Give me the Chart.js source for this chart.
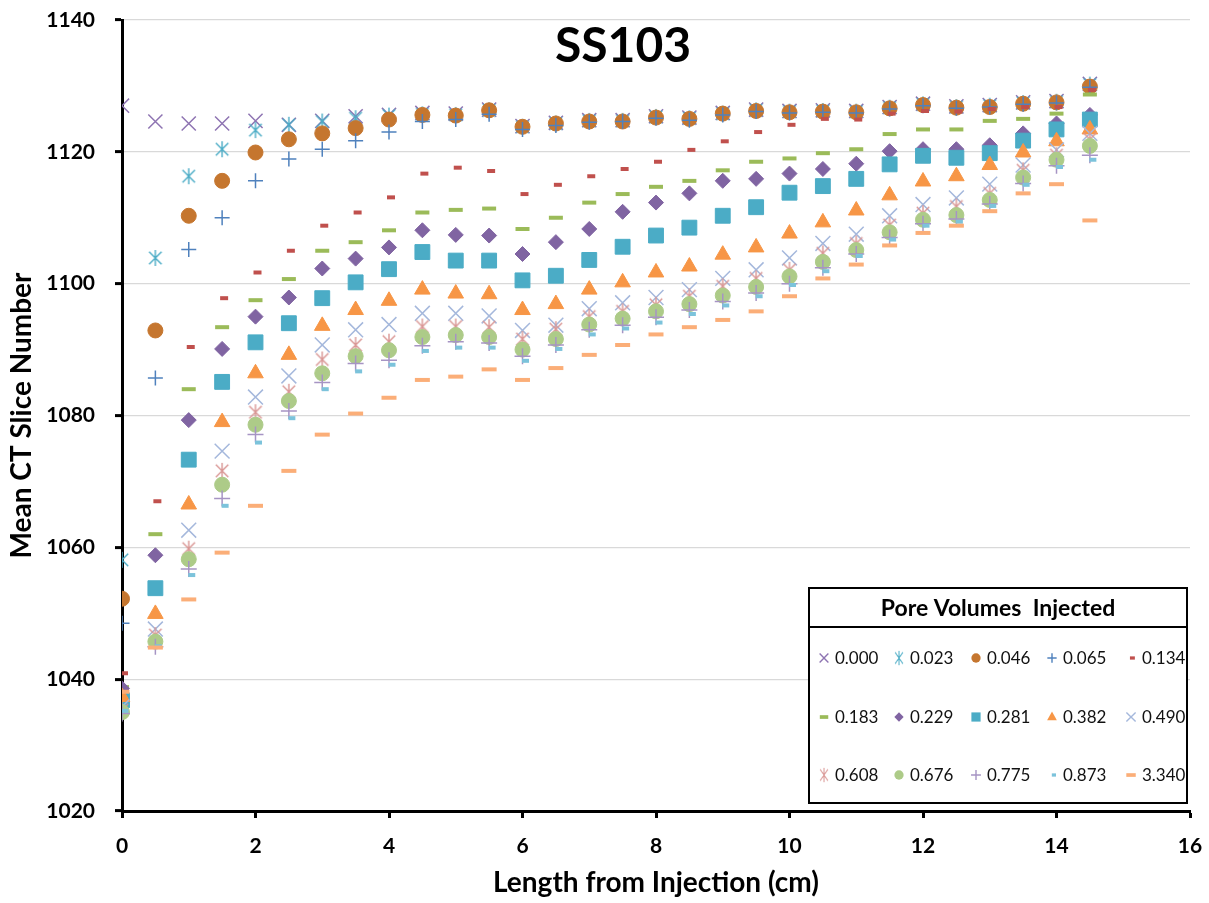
<!DOCTYPE html>
<html>
<head>
<meta charset="utf-8">
<title>SS103</title>
<script src="https://cdn.jsdelivr.net/npm/chart.js"></script>
<style>
  body { margin: 0; background: #fff; }
  #wrap { width: 1209px; height: 903px; }
</style>
</head>
<body>
<div id="wrap"><canvas id="myChart" width="1209" height="903"></canvas></div>
<script>
// distance from injection face (cm)
const lengths = [0, 0.5, 1, 1.5, 2, 2.5, 3, 3.5, 4, 4.5, 5, 5.5, 6, 6.5, 7,
                 7.5, 8, 8.5, 9, 9.5, 10, 10.5, 11, 11.5, 12, 12.5, 13, 13.5, 14, 14.5];

const poreVolumes = ['0.000', '0.023', '0.046', '0.065', '0.134',
                     '0.183', '0.229', '0.281', '0.382', '0.490',
                     '0.608', '0.676', '0.775', '0.873', '3.340'];

// mean CT slice number, one list per injected pore volume
const pv000 = [1127.0, 1124.6, 1124.3, 1124.3, 1124.7, 1124.1, 1124.7, 1125.4, 1125.6, 1125.9, 1125.8, 1126.4, 1123.9, 1124.4, 1124.8,
               1124.8, 1125.4, 1125.2, 1125.9, 1126.4, 1126.2, 1126.3, 1126.2, 1126.8, 1127.3, 1126.9, 1127.1, 1127.5, 1127.7, 1130.3];
const pv023 = [1058.1, 1103.9, 1116.3, 1120.4, 1123.3, 1124.1, 1124.6, 1125.1, 1125.5, 1125.7, 1125.6, 1126.3, 1123.8, 1124.3, 1124.7,
               1124.7, 1125.3, 1125.1, 1125.8, 1126.3, 1126.1, 1126.2, 1126.1, 1126.7, 1127.2, 1126.8, 1127.0, 1127.4, 1127.6, 1130.2];
const pv046 = [1052.2, 1092.9, 1110.3, 1115.6, 1119.9, 1121.9, 1122.8, 1123.6, 1124.9, 1125.6, 1125.5, 1126.3, 1123.8, 1124.3, 1124.6,
               1124.6, 1125.2, 1125.0, 1125.8, 1126.2, 1126.0, 1126.1, 1126.0, 1126.6, 1127.1, 1126.7, 1126.8, 1127.3, 1127.5, 1129.9];
const pv065 = [1048.5, 1085.7, 1105.2, 1110.0, 1115.6, 1118.9, 1120.4, 1121.7, 1123.0, 1124.6, 1124.9, 1125.7, 1123.4, 1124.0, 1124.5,
               1124.6, 1125.1, 1124.8, 1125.6, 1126.1, 1125.9, 1126.0, 1125.9, 1126.5, 1127.0, 1126.6, 1126.8, 1127.2, 1127.4, 1129.8];
const pv134 = [1040.9, 1067.0, 1090.4, 1097.8, 1101.7, 1105.0, 1108.8, 1110.8, 1113.1, 1116.7, 1117.6, 1117.1, 1113.6, 1115.0, 1116.3,
               1117.4, 1118.5, 1120.3, 1121.6, 1123.0, 1124.1, 1125.0, 1124.9, 1125.8, 1126.2, 1126.1, 1126.5, 1126.8, 1126.8, 1129.4];
const pv183 = [1038.8, 1062.0, 1084.0, 1093.4, 1097.5, 1100.7, 1105.0, 1106.3, 1108.1, 1110.8, 1111.2, 1111.4, 1108.3, 1110.0, 1112.3,
               1113.6, 1114.7, 1115.6, 1117.2, 1118.5, 1119.0, 1119.8, 1120.4, 1122.7, 1123.4, 1123.4, 1124.7, 1125.0, 1125.8, 1128.7];
const pv229 = [1038.6, 1058.8, 1079.3, 1090.1, 1095.0, 1097.9, 1102.3, 1103.8, 1105.5, 1108.1, 1107.4, 1107.3, 1104.5, 1106.3, 1108.3,
               1110.9, 1112.3, 1113.7, 1115.6, 1115.9, 1116.7, 1117.4, 1118.2, 1120.1, 1120.4, 1120.4, 1121.0, 1122.8, 1124.3, 1125.6];
const pv281 = [1036.8, 1053.8, 1073.3, 1085.1, 1091.1, 1094.0, 1097.8, 1100.2, 1102.2, 1104.8, 1103.5, 1103.5, 1100.5, 1101.2, 1103.6,
               1105.6, 1107.3, 1108.5, 1110.3, 1111.6, 1113.8, 1114.8, 1115.9, 1118.1, 1119.4, 1119.1, 1119.8, 1121.7, 1123.4, 1124.9];
const pv382 = [1037.3, 1049.9, 1066.5, 1079.0, 1086.4, 1089.2, 1093.6, 1096.0, 1097.4, 1099.1, 1098.5, 1098.4, 1096.0, 1096.9, 1099.1,
               1100.2, 1101.7, 1102.6, 1104.4, 1105.5, 1107.6, 1109.3, 1111.1, 1113.4, 1115.5, 1116.3, 1118.0, 1119.9, 1121.6, 1123.4];
const pv490 = [1035.8, 1047.6, 1062.6, 1074.6, 1082.8, 1086.0, 1090.7, 1093.0, 1093.8, 1095.5, 1095.5, 1095.1, 1092.9, 1093.7, 1096.2,
               1097.1, 1097.9, 1099.1, 1100.8, 1102.1, 1103.9, 1106.1, 1107.5, 1110.3, 1112.0, 1113.0, 1115.1, 1118.0, 1120.3, 1122.8];
const pv608 = [1035.3, 1046.7, 1059.8, 1071.6, 1080.5, 1083.6, 1088.5, 1090.7, 1091.2, 1093.5, 1093.5, 1093.4, 1091.6, 1093.1, 1095.0,
               1095.8, 1096.8, 1098.1, 1099.6, 1100.8, 1102.1, 1104.6, 1106.1, 1108.9, 1110.7, 1111.7, 1113.7, 1117.2, 1119.5, 1121.9];
const pv676 = [1035.0, 1045.7, 1058.2, 1069.5, 1078.6, 1082.2, 1086.4, 1089.0, 1089.9, 1091.9, 1092.2, 1091.9, 1090.0, 1091.6, 1093.8,
               1094.7, 1095.8, 1096.9, 1098.2, 1099.5, 1101.1, 1103.3, 1105.1, 1107.8, 1109.7, 1110.4, 1112.7, 1116.1, 1118.8, 1120.9];
const pv775 = [1034.8, 1044.9, 1056.7, 1067.4, 1077.1, 1080.7, 1085.0, 1087.9, 1088.4, 1090.6, 1091.2, 1091.0, 1089.0, 1090.7, 1093.0,
               1093.7, 1094.9, 1096.0, 1097.3, 1098.6, 1100.0, 1102.4, 1104.5, 1107.0, 1109.1, 1109.8, 1112.1, 1115.2, 1117.9, 1119.5];
const pv873 = [1035.2, 1045.0, 1055.8, 1066.3, 1075.9, 1079.6, 1084.0, 1086.7, 1087.7, 1089.8, 1090.3, 1090.3, 1088.3, 1090.1, 1092.3,
               1093.2, 1094.1, 1095.4, 1096.7, 1098.1, 1099.8, 1101.9, 1104.2, 1106.7, 1108.8, 1109.4, 1111.8, 1115.0, 1117.7, 1118.8];
const pv3340 = [1038.1, 1044.8, 1052.1, 1059.2, 1066.3, 1071.6, 1077.1, 1080.3, 1082.7, 1085.4, 1085.9, 1087.0, 1085.4, 1087.2, 1089.2,
                1090.7, 1092.3, 1093.4, 1094.5, 1095.8, 1098.1, 1100.8, 1102.9, 1105.8, 1107.7, 1108.8, 1111.0, 1113.7, 1115.1, 1109.6];

const allSeries = [pv000, pv023, pv046, pv065, pv134, pv183, pv229, pv281,
                   pv382, pv490, pv608, pv676, pv775, pv873, pv3340];

const yTicks = [1020, 1040, 1060, 1080, 1100, 1120, 1140];
const xTicks = [0, 2, 4, 6, 8, 10, 12, 14, 16];

// excel-like marker images
function asteriskMarker(color, r) {
    const s = Math.ceil(r * 2 + 4);
    const c = document.createElement('canvas');
    c.width = s; c.height = s;
    const g = c.getContext('2d');
    const m = s / 2, d = r * 0.78;
    g.strokeStyle = color;
    g.lineWidth = 1.4;
    g.beginPath();
    g.moveTo(m, m - r); g.lineTo(m, m + r);
    g.moveTo(m - d, m - d); g.lineTo(m + d, m + d);
    g.moveTo(m - d, m + d); g.lineTo(m + d, m - d);
    g.stroke();
    return c;
}

function dashMarker(color, w, h, dx) {
    const c = document.createElement('canvas');
    c.width = Math.ceil(w + Math.abs(dx) * 2 + 2);
    c.height = h + 2;
    const g = c.getContext('2d');
    g.fillStyle = color;
    g.fillRect(c.width / 2 + dx - w / 2, 1, w, h);
    return c;
}

const styles = [
    { color: '#8E74B2', shape: 'crossRot', r: 10 },
    { color: '#4BACC6', shape: asteriskMarker('#4BACC6', 8), r: 8 },
    { color: '#C5762F', shape: 'circle', r: 7.5 },
    { color: '#4F81BD', shape: 'cross', r: 7.5 },
    { color: '#C0504D', shape: dashMarker('#C0504D', 8, 4, 2), r: 4 },
    { color: '#9BBB59', shape: dashMarker('#9BBB59', 14, 4, 0), r: 7 },
    { color: '#8064A2', shape: 'rectRot', r: 7.5 },
    { color: '#4BACC6', shape: 'rect', r: 10.5 },
    { color: '#F79646', shape: 'triangle', r: 9 },
    { color: '#A5B8DC', shape: 'crossRot', r: 10.5 },
    { color: '#D99694', shape: asteriskMarker('#D99694', 8), r: 8 },
    { color: '#ADCB88', shape: 'circle', r: 7.5 },
    { color: '#A694C4', shape: 'cross', r: 8 },
    { color: '#7CC3DB', shape: dashMarker('#7CC3DB', 7, 4, 3), r: 4 },
    { color: '#FBAE78', shape: dashMarker('#FBAE78', 15, 4, 0), r: 7 }
];

const datasets = allSeries.map(function (vals, i) {
    const st = styles[i];
    const line = (st.shape === 'cross' || st.shape === 'crossRot');
    return {
        label: poreVolumes[i],
        data: vals.map(function (v, k) { return { x: lengths[k], y: v }; }),
        pointStyle: st.shape,
        pointRadius: st.r,
        pointHoverRadius: st.r,
        backgroundColor: st.color,
        borderColor: st.color,
        pointBorderWidth: line ? 1.5 : 1,
        showLine: false,
        order: allSeries.length - i
    };
});

// small copy of the marker for the legend box
function legendMarker(g, st, x, y) {
    const f = 0.62;
    g.save();
    g.fillStyle = st.color;
    g.strokeStyle = st.color;
    g.lineWidth = 1.4;
    if (typeof st.shape !== 'string') {
        const w = st.shape.width * f, h = st.shape.height * (st.r < 5 ? 0.8 : 0.9);
        g.drawImage(st.shape, x - w / 2, y - h / 2, w, h);
        g.restore();
        return;
    }
    const r = st.r * f;
    g.beginPath();
    if (st.shape === 'circle') {
        g.arc(x, y, r, 0, Math.PI * 2); g.fill();
    } else if (st.shape === 'rect') {
        const s = r * Math.SQRT1_2;
        g.fillRect(x - s, y - s, s * 2, s * 2);
    } else if (st.shape === 'rectRot') {
        g.moveTo(x - r, y); g.lineTo(x, y - r); g.lineTo(x + r, y); g.lineTo(x, y + r);
        g.closePath(); g.fill();
    } else if (st.shape === 'triangle') {
        g.moveTo(x, y - r); g.lineTo(x + r * 0.87, y + r * 0.6); g.lineTo(x - r * 0.87, y + r * 0.6);
        g.closePath(); g.fill();
    } else if (st.shape === 'cross') {
        g.moveTo(x - r, y); g.lineTo(x + r, y); g.moveTo(x, y - r); g.lineTo(x, y + r); g.stroke();
    } else if (st.shape === 'crossRot') {
        const d = r * Math.SQRT1_2;
        g.moveTo(x - d, y - d); g.lineTo(x + d, y + d); g.moveTo(x - d, y + d); g.lineTo(x + d, y - d); g.stroke();
    }
    g.restore();
}

const overlay = {
    id: 'overlay',
    afterDraw: function (chart) {
        const g = chart.ctx;
        const a = chart.chartArea;
        g.save();
        // chart title
        g.fillStyle = '#000';
        g.font = 'bold 48px Lato';
        g.textAlign = 'center';
        g.textBaseline = 'middle';
        g.fillText('SS103', 623, 47);

        // legend box
        const bx = a.right - 381, by = a.bottom - 223, bw = 378;
        g.lineWidth = 2;
        g.strokeStyle = '#000';
        g.fillStyle = '#fff';
        g.fillRect(bx, by, bw, 215);
        g.strokeRect(bx, by, bw, 39);
        g.strokeRect(bx, by + 39, bw, 176);
        g.fillStyle = '#000';
        g.font = 'bold 23px Lato';
        g.fillText('Pore Volumes  Injected', bx + bw / 2, by + 21);

        const colX = [15, 90, 167, 243, 322];
        const rowY = [70, 129, 187];
        g.font = '17px Lato';
        g.textAlign = 'left';
        for (let i = 0; i < poreVolumes.length; i++) {
            const cx = bx + colX[i % 5], cy = by + rowY[Math.floor(i / 5)];
            legendMarker(g, styles[i], cx, cy);
            g.fillStyle = '#111';
            g.fillText(poreVolumes[i], cx + 11, cy + 1);
        }
        g.restore();
    }
};

const config = {
    type: 'scatter',
    data: { datasets: datasets },
    options: {
        responsive: false,
        animation: false,
        layout: { padding: { top: 20, right: 19, left: 0, bottom: 0 } },
        plugins: { legend: { display: false }, tooltip: { enabled: false } },
        scales: {
            x: {
                type: 'linear',
                min: 0, max: 16,
                afterFit: function (s) { s.height = 92; s.paddingLeft = 0; s.paddingRight = 0; },
                afterBuildTicks: function (s) { s.ticks = xTicks.map(function (v) { return { value: v }; }); },
                border: { color: '#000', width: 3 },
                grid: { drawOnChartArea: false, drawTicks: true, tickLength: 7, tickColor: '#000', tickWidth: 3 },
                ticks: { color: '#000', padding: 16, font: { family: 'Lato', weight: 'bold', size: 21 }, maxRotation: 0,
                         callback: function (v) { return String(v); } },
                title: { display: true, text: 'Length from Injection (cm)', color: '#000', padding: { bottom: 3 },
                         font: { family: 'Lato', weight: 'bold', size: 28 } }
            },
            y: {
                type: 'linear',
                min: 1020, max: 1140,
                afterFit: function (s) { s.width = 122; s.paddingTop = 0; s.paddingBottom = 0; },
                afterBuildTicks: function (s) { s.ticks = yTicks.map(function (v) { return { value: v }; }); },
                border: { color: '#000', width: 3 },
                grid: { color: '#D9D9D9', lineWidth: 1.2, drawTicks: true, tickLength: 7, tickColor: '#000', tickWidth: 3 },
                ticks: { color: '#000', padding: 20, font: { family: 'Lato', weight: 'bold', size: 21 },
                         callback: function (v) { return String(v); } },
                title: { display: true, text: 'Mean CT Slice Number', color: '#000', padding: { top: 5 },
                         font: { family: 'Lato', weight: 'bold', size: 28 } }
            }
        }
    },
    plugins: [overlay]
};

const myChart = new Chart(document.getElementById('myChart'), config);
</script>
</body>
</html>
